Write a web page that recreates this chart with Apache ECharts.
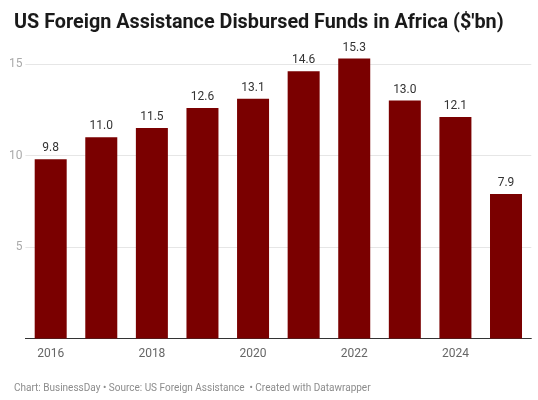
<!DOCTYPE html>
<html><head><meta charset="utf-8">
<script src="https://cdn.jsdelivr.net/npm/echarts@6/dist/echarts.min.js"></script>
<style>html,body{margin:0;padding:0;background:#fff;}#c{width:538px;height:400px;}</style>
</head><body><div id="c"></div>
<script>
const years = ['2016','2017','2018','2019','2020','2021','2022','2023','2024','2025'];
const funds = [9.8, 11.0, 11.5, 12.6, 13.1, 14.6, 15.3, 13.0, 12.1, 7.9];
const yTicks = [0, 5, 10, 15];
const titleText = "US Foreign Assistance Disbursed Funds in Africa ($'bn)";
const footerText = "Chart: BusinessDay • Source: US Foreign Assistance  • Created with Datawrapper";

const chart = echarts.init(document.getElementById('c'), null, {renderer:'canvas'});
chart.setOption({
  animation:false,
  textStyle:{fontFamily:'Roboto'},
  title:[{
    text:titleText, left:9, top:8,
    textStyle:{fontFamily:'Roboto', fontWeight:'bold', fontSize:19.8, color:'#1a1a1a'}
  },{
    text:footerText, left:9, top:378,
    textStyle:{fontFamily:'Roboto', fontWeight:'normal', fontSize:10, color:'#8c8c8c'}
  }],
  grid:{left:25.4, right:6.7, top:64, bottom:61.5, containLabel:false},
  xAxis:{
    type:'category', data:years,
    axisLine:{show:true, lineStyle:{color:'#333', width:1}},
    axisTick:{show:false},
    axisLabel:{interval:1, color:'#666', fontSize:12, margin:9, fontFamily:'Roboto'}
  },
  yAxis:{
    type:'value', min:yTicks[0], max:yTicks[yTicks.length-1], interval:5,
    axisLine:{show:false}, axisTick:{show:false},
    axisLabel:{color:'#aaa', fontSize:12, margin:3, fontFamily:'Roboto',
      formatter:v=> v===0 ? '' : String(v)},
    splitLine:{show:true, lineStyle:{color:'#e6e6e6', width:1}}
  },
  series:[{
    type:'bar', data:funds, barWidth:32, clip:false,
    itemStyle:{color:'#7a0000'},
    label:{show:true, position:'top', distance:5, color:'#333', fontSize:12, fontFamily:'Roboto',
      formatter:p=>p.value.toFixed(1)}
  }]
});
</script></body></html>
